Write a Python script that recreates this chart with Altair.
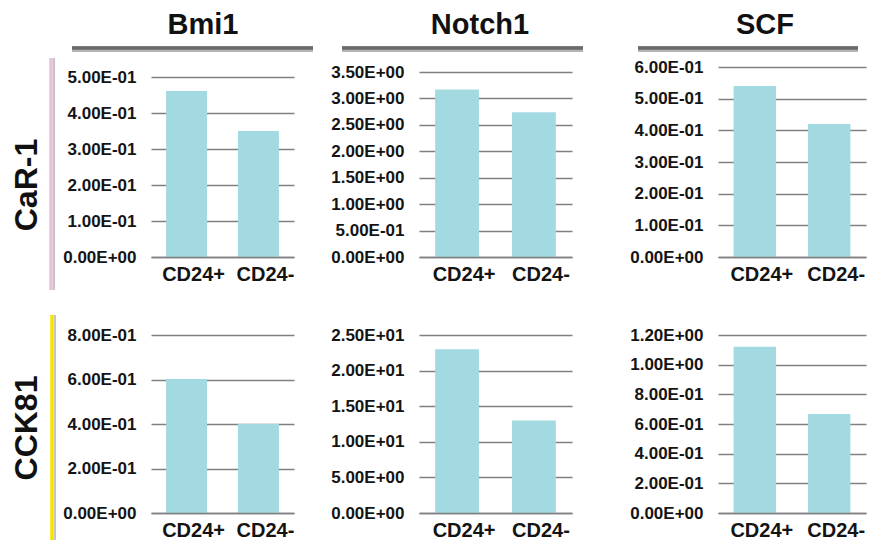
import altair as alt
import pandas as pd

# ---------------- data ----------------
genes = ["Bmi1", "Notch1", "SCF"]
cell_lines = ["CaR-1", "CCK81"]
groups = ["CD24+", "CD24-"]

car1_bmi1 = [0.461, 0.350]
car1_notch1 = [3.17, 2.74]
car1_scf = [0.540, 0.420]
cck81_bmi1 = [0.602, 0.400]
cck81_notch1 = [23.0, 13.0]
cck81_scf = [1.12, 0.667]

car1_bmi1_ticks = [0, 0.1, 0.2, 0.3, 0.4, 0.5]
car1_bmi1_labels = ["0.00E+00", "1.00E-01", "2.00E-01", "3.00E-01", "4.00E-01", "5.00E-01"]
car1_notch1_ticks = [0, 0.5, 1, 1.5, 2, 2.5, 3, 3.5]
car1_notch1_labels = ["0.00E+00", "5.00E-01", "1.00E+00", "1.50E+00", "2.00E+00",
                      "2.50E+00", "3.00E+00", "3.50E+00"]
car1_scf_ticks = [0, 0.1, 0.2, 0.3, 0.4, 0.5, 0.6]
car1_scf_labels = ["0.00E+00", "1.00E-01", "2.00E-01", "3.00E-01", "4.00E-01",
                   "5.00E-01", "6.00E-01"]
cck81_bmi1_ticks = [0, 0.2, 0.4, 0.6, 0.8]
cck81_bmi1_labels = ["0.00E+00", "2.00E-01", "4.00E-01", "6.00E-01", "8.00E-01"]
cck81_notch1_ticks = [0, 5, 10, 15, 20, 25]
cck81_notch1_labels = ["0.00E+00", "5.00E+00", "1.00E+01", "1.50E+01", "2.00E+01", "2.50E+01"]
cck81_scf_ticks = [0, 0.2, 0.4, 0.6, 0.8, 1.0, 1.2]
cck81_scf_labels = ["0.00E+00", "2.00E-01", "4.00E-01", "6.00E-01", "8.00E-01",
                    "1.00E+00", "1.20E+00"]

# ---------------- layout (page pixels) ----------------
COL_X = [151, 419, 718]
COL_W = [143, 153, 148]
COL_BOX = [(8, 320), (320, 615), (615, 867)]
ROW_ORIGIN = [67, 335]                       # top of each row's plot areas
GRID_TOP = [[77, 72, 67], [335, 335, 335]]   # where the top gridline sits
ROW_BOTTOM = [257, 513]
ROW_BOX = [(8, 296), (296, 546)]
TITLE_X = [203, 480, 765]
TITLE_Y = 25
UNDER_X = [(72, 313), (342, 583), (638, 858)]
UNDER_Y = 48
ROWLAB_X = 27
ROWLAB_Y = [185, 428]
ROWLINE_X = [51, 52]
ROWLINE_Y = [(58, 290), (315, 540)]
ROWLINE_COLOR = ["#e6c2de", "#f4e400"]

FONT = "Liberation Sans"
BAR_COLOR = "#a3d9e0"
GRID = "#808080"
ONE = pd.DataFrame({"k": [0]})


def label_expr(ticks, labels):
    expr = "''"
    for t, l in reversed(list(zip(ticks, labels))):
        expr = f"datum.value === {t} ? '{l}' : ({expr})"
    return expr


def panel(ci, ri, vals, ticks, labels):
    x0 = COL_X[ci]
    W = COL_W[ci]
    y0 = ROW_ORIGIN[ri]
    H = ROW_BOTTOM[ri] - y0
    dmax = ticks[-1] * H / (ROW_BOTTOM[ri] - GRID_TOP[ri][ci])
    df = pd.DataFrame({"group": groups, "value": vals})
    bars = alt.Chart(df).mark_bar(color=BAR_COLOR).encode(
        x=alt.X("group:N", sort=groups, title=None,
                scale=alt.Scale(paddingInner=0.43, paddingOuter=0.21),
                axis=alt.Axis(labelAngle=0, labelOffset=7, labelPadding=7, labelFontSize=20,
                              labelFontWeight="bold", ticks=False, tickSize=0, domain=True,
                              domainColor=GRID, domainWidth=1.6, zindex=1, grid=False)),
        y=alt.Y("value:Q", title=None,
                scale=alt.Scale(domain=[0, dmax], nice=False, zero=True),
                axis=alt.Axis(values=ticks, labelExpr=label_expr(ticks, labels), grid=True,
                              gridColor=GRID, gridWidth=1.6, domain=False, ticks=False,
                              tickSize=0, labelPadding=15, labelFontSize=17,
                              labelFontWeight="bold", labelOverlap=False)),
    )
    layers = [bars]
    bx0, bx1 = COL_BOX[ci]
    by0, by1 = ROW_BOX[ri]
    layers.append(alt.Chart(ONE).mark_rule(strokeOpacity=0).encode(
        x=alt.value(bx0 - x0), x2=alt.value(bx1 - x0),
        y=alt.value(by0 - y0), y2=alt.value(by1 - y0)))
    if ri == 0:
        ux0, ux1 = UNDER_X[ci]
        layers.append(alt.Chart(ONE).mark_rule(color="#b4b4b4", strokeWidth=6).encode(
            x=alt.value(ux0 - x0), x2=alt.value(ux1 - x0), y=alt.value(UNDER_Y + 1 - y0)))
        layers.append(alt.Chart(ONE).mark_rule(color="#6a6a6a", strokeWidth=3.5).encode(
            x=alt.value(ux0 - x0), x2=alt.value(ux1 - x0), y=alt.value(UNDER_Y - y0)))
        layers.append(alt.Chart(ONE).mark_text(
            text=genes[ci], font=FONT, fontSize=29, fontWeight="bold", color="#111111",
            align="center", baseline="middle").encode(
            x=alt.value(TITLE_X[ci] - x0), y=alt.value(TITLE_Y - y0)))
    if ci == 0:
        lx = ROWLINE_X[ri]
        ly0, ly1 = ROWLINE_Y[ri]
        layers.append(alt.Chart(ONE).mark_rule(color="#c4c4c4", strokeWidth=2).encode(
            x=alt.value(lx + 3 - x0), y=alt.value(ly0 - y0), y2=alt.value(ly1 - y0)))
        layers.append(alt.Chart(ONE).mark_rule(color=ROWLINE_COLOR[ri], strokeWidth=3.5).encode(
            x=alt.value(lx - x0), y=alt.value(ly0 - y0), y2=alt.value(ly1 - y0)))
        layers.append(alt.Chart(ONE).mark_text(
            text=cell_lines[ri], font=FONT, fontSize=32, fontWeight="bold", color="#111111",
            angle=270, align="center", baseline="middle").encode(
            x=alt.value(ROWLAB_X - x0), y=alt.value(ROWLAB_Y[ri] - y0)))
    return alt.layer(*layers).properties(width=W, height=H)


row1 = alt.hconcat(
    panel(0, 0, car1_bmi1, car1_bmi1_ticks, car1_bmi1_labels),
    panel(1, 0, car1_notch1, car1_notch1_ticks, car1_notch1_labels),
    panel(2, 0, car1_scf, car1_scf_ticks, car1_scf_labels),
    spacing=0,
)
row2 = alt.hconcat(
    panel(0, 1, cck81_bmi1, cck81_bmi1_ticks, cck81_bmi1_labels),
    panel(1, 1, cck81_notch1, cck81_notch1_ticks, cck81_notch1_labels),
    panel(2, 1, cck81_scf, cck81_scf_ticks, cck81_scf_labels),
    spacing=0,
)

chart = alt.vconcat(row1, row2, spacing=0).properties(
    padding=0, background="white"
).configure_view(strokeWidth=0).configure_axis(
    labelFont=FONT, labelColor="#141414"
).configure_concat(spacing=0)

chart.save("out.html", embed_options={"renderer": "svg", "actions": False})
